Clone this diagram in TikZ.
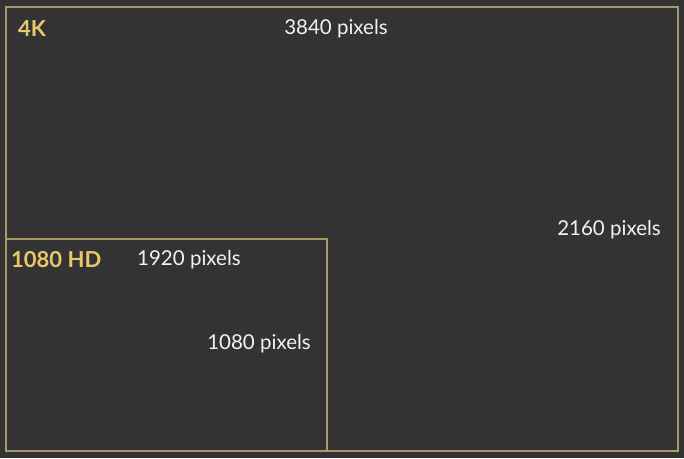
\documentclass[tikz,border=0pt]{standalone}
\usepackage{fontspec}
\setmainfont{Lato}
\definecolor{bg}{HTML}{333333}
\definecolor{frame}{HTML}{A89A6A}
\definecolor{gold}{HTML}{E8C86A}
\definecolor{txt}{HTML}{F2F2F2}
\begin{document}
\begin{tikzpicture}[x=1pt,y=-1pt,
  box/.style={draw=frame,line width=1.8pt},
  lab/.style={text=txt,font=\fontsize{20.5}{22}\selectfont,inner sep=0pt},
  title/.style={text=gold,font=\fontsize{22}{24}\selectfont\bfseries,inner sep=0pt}]
\fill[bg] (0,0) rectangle (684,458);
\useasboundingbox (0,0) rectangle (684,458);
\node[box,minimum width=672pt,minimum height=444pt,anchor=north west,inner sep=0pt] (uhd) at (5,6) {};
\node[box,minimum width=321pt,minimum height=212pt,anchor=south west,inner sep=0pt] (hd) at (uhd.south west) {};
\node[title,anchor=west] (t4k) at (18,29) {4K};
\node[lab] (w4k) at (336,29) {3840 pixels};
\node[lab,anchor=east] (h4k) at (661,230) {2160 pixels};
\node[title,anchor=west] (thd) at (11,260) {1080 HD};
\node[lab,anchor=west] (whd) at (137,260) {1920 pixels};
\node[lab,anchor=east] (hhd) at (311,344) {1080 pixels};
\end{tikzpicture}
\end{document}
